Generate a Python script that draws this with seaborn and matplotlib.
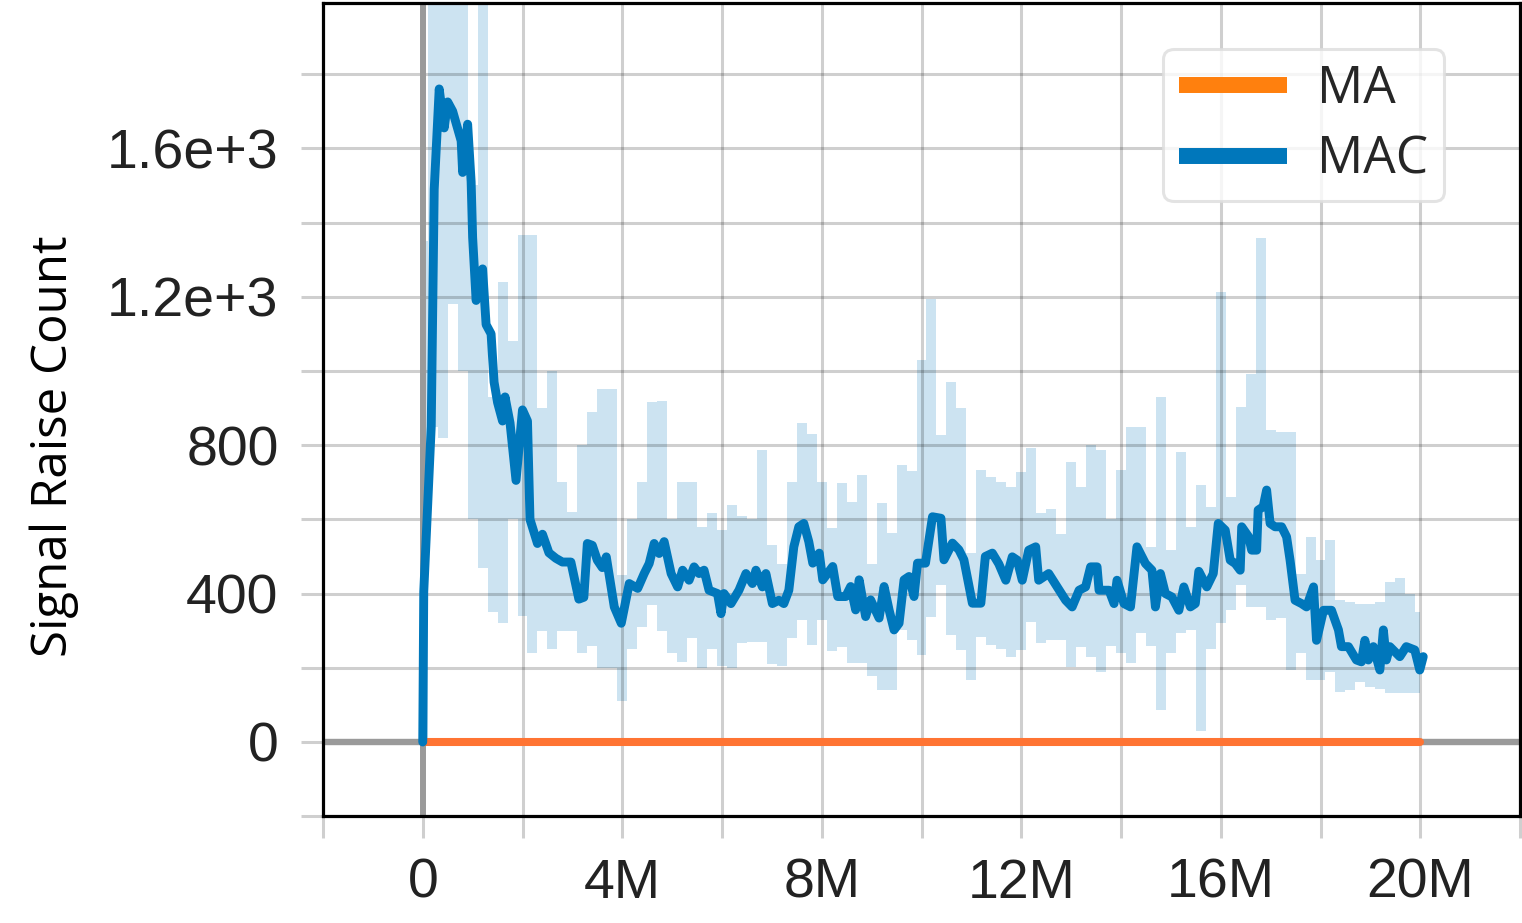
import numpy as np
import matplotlib
matplotlib.use("Agg")
import matplotlib.pyplot as plt
import seaborn as sns
from matplotlib.lines import Line2D

OUT_PATH = "out.png"

# MAC smoothed signal-raise count (x in millions of steps)
MAC_STEPS_M = [
    0.0, 0.02, 0.17, 0.23, 0.33, 0.43, 0.5, 0.6, 0.77, 0.8, 0.9, 0.97, 1.0, 1.07,
    1.2, 1.27, 1.37, 1.43, 1.5, 1.6, 1.65, 1.75, 1.87, 2.0, 2.1, 2.15, 2.3, 2.4,
    2.53, 2.67, 2.8, 2.97, 3.13, 3.23, 3.3, 3.4, 3.5, 3.6, 3.68, 3.84, 3.98, 4.14,
    4.31, 4.44, 4.54, 4.64, 4.74, 4.84, 4.98, 5.11, 5.21, 5.34, 5.44, 5.54, 5.64,
    5.74, 5.91, 5.98, 6.04, 6.18, 6.34, 6.48, 6.61, 6.68, 6.81, 6.88, 7.01, 7.14,
    7.24, 7.34, 7.44, 7.54, 7.64, 7.74, 7.82, 7.95, 8.02, 8.22, 8.32, 8.48, 8.58,
    8.68, 8.75, 8.88, 8.98, 9.15, 9.25, 9.35, 9.45, 9.55, 9.65, 9.75, 9.85, 9.92,
    10.08, 10.22, 10.39, 10.45, 10.62, 10.75, 10.85, 11.02, 11.19, 11.28, 11.42,
    11.55, 11.69, 11.82, 11.92, 12.02, 12.15, 12.29, 12.35, 12.55, 12.72, 12.89,
    13.02, 13.16, 13.29, 13.39, 13.52, 13.56, 13.76, 13.86, 13.92, 14.06, 14.19,
    14.32, 14.49, 14.62, 14.69, 14.79, 14.89, 15.02, 15.16, 15.26, 15.39, 15.49,
    15.56, 15.72, 15.85, 15.95, 16.09, 16.19, 16.29, 16.39, 16.42, 16.56, 16.62,
    16.72, 16.75, 16.85, 16.92, 16.99, 17.09, 17.22, 17.32, 17.39, 17.49, 17.62,
    17.72, 17.86, 17.92, 18.06, 18.22, 18.36, 18.42, 18.56, 18.72, 18.82, 18.89,
    18.96, 19.06, 19.19, 19.26, 19.32, 19.39, 19.59, 19.72, 19.89, 19.99, 20.06,
]
MAC_VALUES = [
    0, 405, 850, 1490, 1760, 1655, 1725, 1700, 1620, 1535, 1665, 1510, 1360, 1190,
    1275, 1125, 1100, 970, 915, 865, 930, 860, 705, 895, 865, 600, 535, 560,
    510, 495, 485, 485, 385, 390, 535, 530, 490, 470, 499, 364, 320, 427,
    414, 454, 481, 535, 508, 540, 454, 418, 463, 436, 472, 454, 463,
    409, 400, 346, 400, 373, 409, 454, 427, 463, 418, 454, 373, 382,
    373, 409, 526, 580, 589, 540, 482, 509, 437, 473, 392, 392, 419,
    356, 437, 338, 383, 334, 419, 356, 302, 320, 437, 446, 392, 482,
    482, 607, 603, 491, 536, 518, 491, 374, 374, 500, 509,
    480, 436, 499, 490, 436, 517, 526, 436, 454, 418, 382,
    364, 409, 418, 472, 472, 409, 409, 373, 436, 373, 364,
    526, 481, 463, 364, 454, 400, 391, 355, 418, 364, 373,
    460, 418, 454, 589, 571, 490, 481, 463, 580, 553, 517,
    517, 625, 634, 679, 589, 580, 580, 553, 490, 382, 373,
    364, 418, 274, 355, 355, 302, 257, 257, 221, 216, 274,
    221, 257, 194, 302, 221, 257, 230, 257, 248, 194, 230,
]

# raw spread of MAC around the smoothed curve, sampled every 0.2M steps
BAND_STEPS_M = np.linspace(0, 20, 101)
BAND_HIGH = [
    1350, 2100, 2100, 2100, 2100, 1500, 2100, 930, 1240, 1080,
    1366, 1366, 900, 1000, 700, 620, 800, 890, 950, 950,
    450, 600, 700, 917, 920, 600, 700, 700, 580, 616,
    570, 640, 610, 600, 787, 530, 480, 700, 860, 830,
    700, 576, 697, 648, 720, 480, 643, 563, 747, 729,
    1030, 1195, 827, 971, 899, 509, 733, 715, 700, 688,
    728, 791, 616, 629, 560, 755, 688, 800, 787, 600,
    733, 849, 849, 526, 930, 517, 782, 580, 692, 634,
    1213, 661, 904, 993, 1357, 841, 836, 836, 454, 553,
    490, 544, 382, 378, 373, 373, 378, 432, 441, 400,
    351,
]
BAND_LOW = [
    0, 850, 820, 1180, 1000, 600, 470, 350, 320, 600,
    340, 240, 300, 250, 300, 300, 240, 260, 200, 200,
    110, 250, 310, 370, 300, 240, 216, 280, 200, 250,
    205, 200, 266, 270, 270, 210, 205, 280, 330, 262,
    329, 244, 257, 213, 213, 177, 140, 140, 302, 275,
    235, 338, 424, 289, 248, 168, 284, 262, 250, 230,
    248, 324, 266, 275, 275, 203, 257, 230, 189, 260,
    239, 212, 293, 260, 86, 240, 293, 302, 30, 250,
    320, 356, 423, 364, 364, 330, 333, 194, 239, 167,
    167, 189, 135, 139, 162, 149, 144, 131, 131, 131,
    131,
]

# MA never raises a signal
MA_STEPS_M = [0.0, 20.0]
MA_VALUES = [0, 0]

X_TICKS = [-2, 0, 2, 4, 6, 8, 10, 12, 14, 16, 18, 20, 22]
X_TICK_LABELS = ["", "0", "", "4M", "", "8M", "", "12M", "", "16M", "", "20M", ""]
Y_TICKS = [-200, 0, 200, 400, 600, 800, 1000, 1200, 1400, 1600, 1800]
Y_TICK_LABELS = ["", "0", "", "400", "", "800", "", "1.2e+3", "", "1.6e+3", ""]

BLUE = "#0077BB"
ORANGE_LINE = "#FF7433"
ORANGE_LEG = "#FF800E"
GRID = (0, 0, 0, 0.19)


def main():
    sns.set_theme(style="white")
    plt.rcParams["font.family"] = ["Liberation Sans", "DejaVu Sans"]

    fig = plt.figure(figsize=(15.22, 9.23), dpi=100)
    ax = fig.add_axes([323 / 1522, 1 - 816.2 / 923, 1197 / 1522, 813.7 / 923])

    ax.fill_between(BAND_STEPS_M, BAND_LOW, BAND_HIGH, step="mid",
                    color=BLUE, alpha=0.2, linewidth=0, zorder=1)
    ax.axhline(0, color="#9a9a9a", lw=4.6, zorder=1.6)
    ax.axvline(0, color="#9a9a9a", lw=4.3, zorder=1.6)

    sns.lineplot(x=MA_STEPS_M, y=MA_VALUES, color=ORANGE_LINE, linewidth=5.8,
                 ax=ax, zorder=3)
    sns.lineplot(x=MAC_STEPS_M, y=MAC_VALUES, color=BLUE, linewidth=6.4,
                 ax=ax, zorder=4)

    ax.set_xlim(-2, 22)
    ax.set_ylim(-200, 1993)
    ax.set_xticks(X_TICKS)
    ax.set_xticklabels(X_TICK_LABELS)
    ax.set_yticks(Y_TICKS)
    ax.set_yticklabels(Y_TICK_LABELS)

    ax.set_axisbelow("line")
    ax.grid(True, color="black", alpha=0.19, lw=2.2)
    ax.tick_params(axis="both", which="major", length=16, width=2.2,
                   color=GRID, labelsize=40, labelcolor="#222222")
    ax.tick_params(axis="y", pad=16)
    ax.tick_params(axis="x", pad=14)
    ax.tick_params(left=True, bottom=True)

    for sp in ax.spines.values():
        sp.set_color("black")
        sp.set_linewidth(2.3)
        sp.set_visible(True)

    ax.set_xlabel("")
    ax.set_ylabel("Signal Raise Count", family=["Open Sans", "DejaVu Sans"],
                  fontsize=35.5, color="black")
    ax.yaxis.set_label_coords(-0.204, 0.455)

    handles = [Line2D([], [], color=ORANGE_LEG, lw=11.5, solid_capstyle="butt"),
               Line2D([], [], color=BLUE, lw=11.5, solid_capstyle="butt")]
    leg = ax.legend(handles, ["MA", "MAC"], loc="upper right",
                    bbox_to_anchor=(0.9365, 0.943), borderaxespad=0,
                    prop={"family": ["Open Sans", "DejaVu Sans"], "size": 37},
                    handlelength=2.1, handletextpad=0.6, labelspacing=0.38,
                    borderpad=0.3, fancybox=True, framealpha=0.8)
    leg.get_frame().set_edgecolor("#dddddd")
    leg.get_frame().set_linewidth(2.2)

    fig.savefig(OUT_PATH, dpi=100)
    plt.close(fig)


if __name__ == "__main__":
    main()
